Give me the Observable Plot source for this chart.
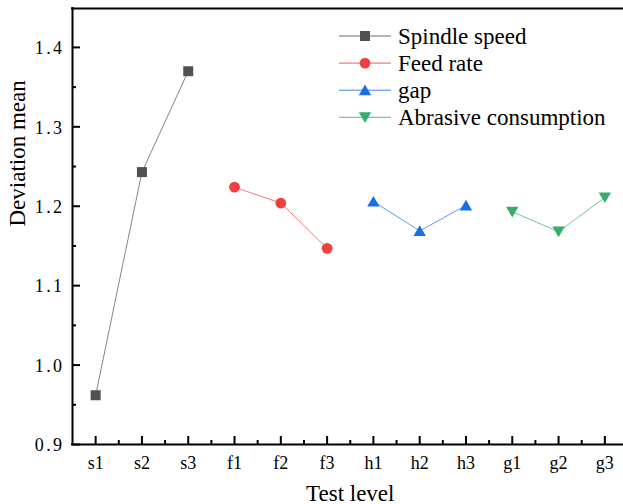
<!DOCTYPE html>
<html>
<head>
<meta charset="utf-8">
<script src="https://cdn.jsdelivr.net/npm/d3@7"></script>
<script src="https://cdn.jsdelivr.net/npm/@observablehq/plot@0.6"></script>
<style>
  html, body { margin: 0; padding: 0; background: #fff; overflow: hidden; }
  #chart { position: relative; width: 623px; height: 504px; }
</style>
</head>
<body>
<div id="chart"></div>
<script>
// Test levels along the x axis (three per factor)
const levels = ["s1", "s2", "s3", "f1", "f2", "f3", "h1", "h2", "h3", "g1", "g2", "g3"];

// Deviation mean per level, one array per factor
const spindleSpeed = [0.962, 1.243, 1.370];
const feedRate = [1.224, 1.204, 1.147];
const gap = [1.206, 1.169, 1.201];
const abrasiveConsumption = [1.193, 1.168, 1.211];

const seriesNames = ["Spindle speed", "Feed rate", "gap", "Abrasive consumption"];
const seriesColors = ["#515151", "#F14040", "#1A6FDF", "#37AD6B"];

const yMajorTicks = [0.9, 1.0, 1.1, 1.2, 1.3, 1.4];
const yMinorTicks = [0.95, 1.05, 1.15, 1.25, 1.35];

// Marker shapes (square, circle, up triangle, down triangle)
const symSquare = { draw(c) { c.rect(-5, -5, 10, 10); } };
const symCircle = { draw(c) { c.moveTo(5.4, 0); c.arc(0, 0, 5.4, 0, 2 * Math.PI); } };
const symUp = { draw(c) { c.moveTo(0, -5.6); c.lineTo(6.2, 5.1); c.lineTo(-6.2, 5.1); c.closePath(); } };
const symDown = { draw(c) { c.moveTo(0, 5.6); c.lineTo(6.2, -5.1); c.lineTo(-6.2, -5.1); c.closePath(); } };
const seriesSymbols = [symSquare, symCircle, symUp, symDown];

// Long-format rows: each factor fills three consecutive levels
const seriesValues = [spindleSpeed, feedRate, gap, abrasiveConsumption];
const rows = seriesValues.flatMap((vals, s) =>
  vals.map((v, k) => ({ series: seriesNames[s], pos: s * 3 + k + 1, value: v }))
);

const positions = levels.map((_, i) => i + 1);
const minorX = positions.slice(0, -1).map(p => p + 0.5);
const xMin = 0.5, xMax = levels.length + 0.5;
const yMin = 0.9, yMax = 1.449;

const font = "'Liberation Serif', 'Times New Roman', serif";

const chart = Plot.plot({
  width: 623,
  height: 504,
  marginLeft: 72,
  marginRight: 0,
  marginTop: 8,
  marginBottom: 60,
  style: { fontFamily: font, fontSize: "18px", background: "#fff", color: "#000" },
  x: { type: "linear", domain: [xMin, xMax], range: [72, 627.5] },
  y: { domain: [yMin, yMax] },
  color: { domain: seriesNames, range: seriesColors },
  symbol: { domain: seriesNames, range: seriesSymbols },
  marks: [
    // connecting lines
    Plot.line(rows, { x: "pos", y: "value", z: "series", stroke: "series", strokeWidth: 1, strokeOpacity: 0.7 }),
    // markers
    Plot.dot(rows, { x: "pos", y: "value", symbol: "series", fill: "series", stroke: "none", r: 5 }),

    // axis lines and top border
    Plot.ruleX([xMin], { strokeWidth: 2, strokeLinecap: "square" }),
    Plot.ruleY([yMin], { strokeWidth: 2, strokeLinecap: "square" }),
    Plot.ruleY([yMax], { strokeWidth: 2, strokeLinecap: "square" }),

    // inward ticks
    Plot.axisY(yMajorTicks, { tickSize: 8, dx: 8, strokeWidth: 2, tickFormat: () => "", label: null }),
    Plot.axisY(yMinorTicks, { tickSize: 4, dx: 4, strokeWidth: 2, tickFormat: () => "", label: null }),
    Plot.axisX(positions, { tickSize: 8, dy: -8, strokeWidth: 2, tickFormat: () => "", label: null }),
    Plot.axisX(minorX, { tickSize: 4, dy: -4, strokeWidth: 2, tickFormat: () => "", label: null }),

    // tick labels
    Plot.axisY(yMajorTicks, { tickSize: 0, tickPadding: 8, dy: 1, fontSize: 18, fontFamily: font, tickFormat: d => d.toFixed(1), label: null }),
    Plot.axisX(positions, { tickSize: 0, tickPadding: 12, fontSize: 18, fontFamily: font, tickFormat: i => levels[i - 1], label: null }),

    // axis titles
    Plot.text(["Deviation mean"], { frameAnchor: "left", dx: -55, rotate: -90, fontSize: 23, fontFamily: font, text: d => d }),
    Plot.text(["Test level"], { x: () => (xMin + xMax) / 2, frameAnchor: "bottom", dy: 56, lineAnchor: "bottom", fontSize: 23, fontFamily: font, text: d => d })
  ]
});

document.getElementById("chart").appendChild(chart);

// Wider spacing for the y tick labels
d3.select(chart).selectAll('[aria-label="y-axis tick label"] text').style("letter-spacing", "2.4px");

// Legend in the upper right of the plot area
const legend = d3.select(chart).append("g")
  .style("font-family", font)
  .attr("font-size", 23)
  .attr("text-anchor", "start");
seriesNames.forEach((name, i) => {
  const yy = 36 + i * 27.1;
  const g = legend.append("g").attr("transform", `translate(0,${yy})`);
  g.append("line").attr("x1", 339).attr("x2", 391).attr("y1", 0).attr("y2", 0)
    .attr("stroke", seriesColors[i]).attr("stroke-width", 1).attr("stroke-opacity", 0.85);
  g.append("path").attr("transform", "translate(365,0)")
    .attr("d", () => { const p = d3.path(); seriesSymbols[i].draw(p); return p.toString(); })
    .attr("fill", seriesColors[i]);
  g.append("text").attr("x", 398).attr("y", 7.6).attr("fill", "#000").text(name);
});
</script>
</body>
</html>
